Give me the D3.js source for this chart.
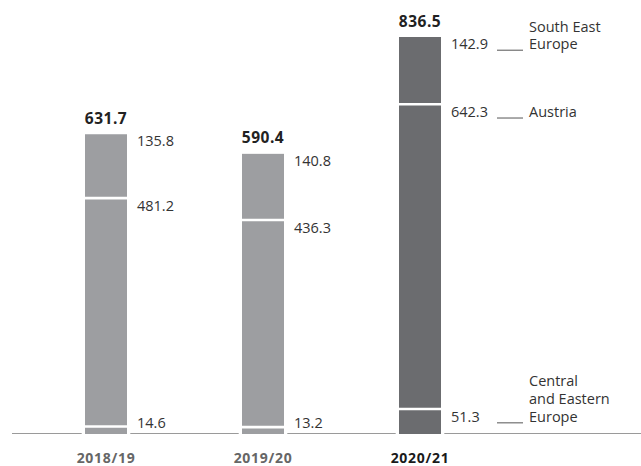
<!DOCTYPE html>
<html>
<head>
<meta charset="utf-8">
<script src="https://cdn.jsdelivr.net/npm/d3@7"></script>
<style>
  html, body { margin: 0; padding: 0; background: #fff; }
  svg { display: block; font-family: "Open Sans", "Noto Sans", sans-serif; }
</style>
</head>
<body>
<div id="chart"></div>
<script>
const years = ["2018/19", "2019/20", "2020/21"];
const cee = [14.6, 13.2, 51.3];
const austria = [481.2, 436.3, 642.3];
const see = [135.8, 140.8, 142.9];
const totals = [631.7, 590.4, 836.5];

const W = 641, H = 466;
const baseY = 434;
const svg = d3.select("#chart").append("svg").attr("width", W).attr("height", H);

const x = d3.scaleBand().domain(years).range([85, 441]).paddingInner(0.7325).paddingOuter(0);
const y = d3.scaleLinear().domain([0, 836.5]).range([baseY, 37]);

const light = "#9d9ea1", dark = "#6b6c6f";
const colorFor = i => i === 2 ? dark : light;

const data = years.map((yr, i) => ({
  year: yr, i,
  segs: [
    { key: "cee", v0: 0, v1: cee[i], val: cee[i] },
    { key: "aut", v0: cee[i], v1: cee[i] + austria[i], val: austria[i] },
    { key: "see", v0: cee[i] + austria[i], v1: cee[i] + austria[i] + see[i], val: see[i] }
  ],
  total: totals[i]
}));

// axis line with gaps around bars
const gap = 3.3;
const axisSegs = [];
let start = 12;
years.forEach(yr => {
  axisSegs.push([start, x(yr) - gap]);
  start = x(yr) + x.bandwidth() + gap;
});
axisSegs.push([start, W]);
svg.selectAll("line.axis").data(axisSegs).enter().append("line")
  .attr("x1", d => d[0]).attr("x2", d => d[1])
  .attr("y1", baseY - 0.5).attr("y2", baseY - 0.5)
  .attr("stroke", "#9a9a9a").attr("stroke-width", 1);

const g = svg.selectAll("g.bar").data(data).enter().append("g");

g.selectAll("rect").data(d => d.segs.map(s => ({ ...s, year: d.year, i: d.i }))).enter().append("rect")
  .attr("x", d => x(d.year))
  .attr("width", x.bandwidth())
  .attr("y", d => y(d.v1))
  .attr("height", d => y(d.v0) - y(d.v1))
  .attr("fill", d => colorFor(d.i));

// white separators
g.selectAll("line.sep").data(d => d.segs.slice(0, 2).map(s => ({ ...s, year: d.year }))).enter().append("line")
  .attr("x1", d => x(d.year)).attr("x2", d => x(d.year) + x.bandwidth())
  .attr("y1", d => y(d.v1) - 0.6).attr("y2", d => y(d.v1) - 0.6)
  .attr("stroke", "#fff").attr("stroke-width", 2.6);

const txt = "#333333";
// totals
g.append("text")
  .attr("x", d => x(d.year) + x.bandwidth() / 2)
  .attr("y", d => y(d.total) - 10.5)
  .attr("text-anchor", "middle")
  .attr("font-weight", "bold").attr("font-size", 15.5).attr("letter-spacing", 0.5)
  .attr("fill", "#222")
  .text(d => d.total.toFixed(1));

// segment value labels
const labelY = s => Math.min(y(s.v1) + 12.2, baseY - 6.5);
g.selectAll("text.val").data(d => d.segs.map(s => ({ ...s, year: d.year }))).enter().append("text")
  .attr("x", d => x(d.year) + x.bandwidth() + 10)
  .attr("y", d => labelY(d))
  .attr("font-size", 14.5).attr("fill", txt)
  .text(d => d.val.toFixed(1));

// year labels
svg.selectAll("text.year").data(years).enter().append("text")
  .attr("x", d => x(d) + x.bandwidth() / 2)
  .attr("y", 463)
  .attr("text-anchor", "middle")
  .attr("font-weight", "bold").attr("font-size", 14).attr("letter-spacing", 0.7)
  .attr("fill", (d, i) => i === 2 ? "#1a1a1a" : "#666666")
  .text(d => d);

// legend for last bar
const last = data[2];
const barRight = x(years[2]) + x.bandwidth();
const legX = barRight + 88;
const legendLines = [
  ["Central", "and Eastern", "Europe"],
  ["Austria"],
  ["South East", "Europe"]
];
last.segs.forEach((s, k) => {
  const ly = labelY(s);
  svg.append("line")
    .attr("x1", legX - 32).attr("x2", legX - 6)
    .attr("y1", ly + 1).attr("y2", ly + 1)
    .attr("stroke", "#555").attr("stroke-width", 1);
  const lines = legendLines[k];
  lines.forEach((t, j) => {
    svg.append("text")
      .attr("x", legX)
      .attr("y", ly - (lines.length - 1 - j) * 17.7)
      .attr("font-size", 14.5).attr("fill", txt)
      .text(t);
  });
});
</script>
</body>
</html>
